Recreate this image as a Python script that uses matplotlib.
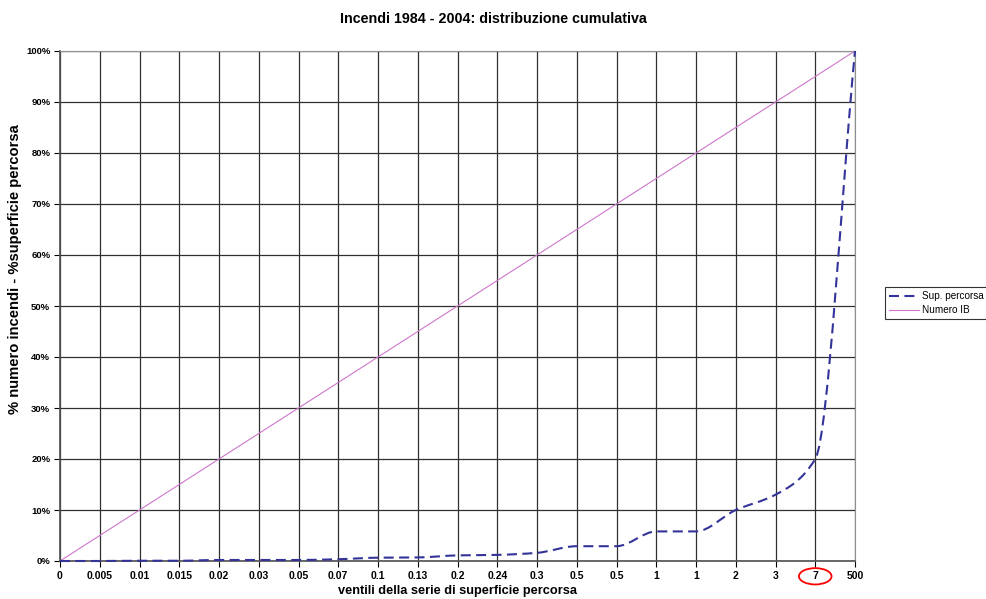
import matplotlib.pyplot as plt
from matplotlib.path import Path
from matplotlib.patches import PathPatch, Ellipse
from matplotlib.lines import Line2D
from matplotlib import transforms
import numpy as np

plt.rcParams['font.family'] = ['Liberation Sans', 'DejaVu Sans']

# ventili (category labels on x)
ventili = ['0', '0.005', '0.01', '0.015', '0.02', '0.03', '0.05', '0.07', '0.1', '0.13',
           '0.2', '0.24', '0.3', '0.5', '0.5', '1', '1', '2', '3', '7', '500']
# cumulative % burned surface
sup_percorsa = [0, 0, 0.05, 0.05, 0.2, 0.2, 0.2, 0.35, 0.65, 0.7,
                1.1, 1.2, 1.6, 2.9, 2.9, 5.8, 5.8, 10, 13, 20, 100]
# cumulative % number of fires
numero_ib = [0, 5, 10, 15, 20, 25, 30, 35, 40, 45, 50,
             55, 60, 65, 70, 75, 80, 85, 90, 95, 100]
y_ticks = [0, 10, 20, 30, 40, 50, 60, 70, 80, 90, 100]


def smooth_path(xs, ys):
    # smoothed line without overshoot: monotone cubic tangents -> Bezier segments
    xs = np.asarray(xs, float)
    ys = np.asarray(ys, float)
    n = len(xs)
    h = np.diff(xs)
    d = np.diff(ys) / h
    m = np.zeros(n)
    m[0], m[-1] = d[0], d[-1]
    for i in range(1, n - 1):
        if d[i - 1] * d[i] > 0:
            m[i] = 2 / (1 / d[i - 1] + 1 / d[i])
    verts = [(xs[0], ys[0])]
    codes = [Path.MOVETO]
    for i in range(n - 1):
        verts += [(xs[i] + h[i] / 3, ys[i] + m[i] * h[i] / 3),
                  (xs[i + 1] - h[i] / 3, ys[i + 1] - m[i + 1] * h[i] / 3),
                  (xs[i + 1], ys[i + 1])]
        codes += [Path.CURVE4] * 3
    return Path(verts, codes)


fig = plt.figure(figsize=(9.87, 5.99), dpi=100)
ax = fig.add_axes([60/987, 1-561/599, (855-60)/987, (561-51)/599])

x = np.arange(len(ventili))
ax.set_xlim(0, len(ventili) - 1)
ax.set_ylim(0, 100)

ax.set_xticks(x)
ax.set_xticklabels(ventili, fontsize=7.5, fontweight='bold')
ax.set_yticks(y_ticks)
ax.set_yticklabels(['%d%%' % v for v in y_ticks], fontsize=6.8, fontweight='bold')
ax.tick_params(axis='both', direction='out', length=4, width=0.8, color='black', pad=3)

ax.grid(True, color='#303030', linewidth=0.9)
ax.set_axisbelow(True)
for s in ['top', 'right']:
    ax.spines[s].set_color('#909090')
for s in ['left', 'bottom']:
    ax.spines[s].set_color('#505050')
    ax.spines[s].set_linewidth(1.2)

sup_color = '#333399'
ib_color = '#cc77cc'

ax.plot(x, numero_ib, color=ib_color, linewidth=0.8, zorder=3)
patch = PathPatch(smooth_path(x, sup_percorsa), facecolor='none', edgecolor=sup_color,
                  linewidth=1.5, linestyle=(0, (4.8, 2.6)), zorder=4, clip_on=False)
ax.add_patch(patch)

ax.set_xlabel('ventili della serie di superficie percorsa', fontsize=9.2, fontweight='bold', labelpad=3)
ax.set_ylabel('% numero incendi - %superficie percorsa', fontsize=10.6, fontweight='bold')
ax.yaxis.set_label_coords(-0.048, 0.573)
fig.suptitle('Incendi 1984 - 2004: distribuzione cumulativa', fontsize=10.3, fontweight='bold',
             y=1-12/599, va='top')

# red ellipse around the "7" label
trans = transforms.blended_transform_factory(ax.transData, ax.transAxes)
ax.add_patch(Ellipse((19, -0.03), 0.82, 0.032, transform=trans, fill=False,
                     edgecolor='red', linewidth=1.3, clip_on=False))

handles = [Line2D([], [], color=sup_color, linewidth=1.5, linestyle=(0, (4.8, 2.6))),
           Line2D([], [], color=ib_color, linewidth=0.8)]
leg = fig.legend(handles, ['Sup. percorsa', 'Numero IB'], loc='upper left',
                 bbox_to_anchor=(885/987, 1-287/599), fontsize=7.2, frameon=True,
                 fancybox=False, borderpad=0.4, handlelength=3.0, handletextpad=0.3,
                 labelspacing=0.4, borderaxespad=0)
leg.get_frame().set_edgecolor('black')
leg.get_frame().set_linewidth(0.8)

fig.savefig('out.png', dpi=100, facecolor='white')
